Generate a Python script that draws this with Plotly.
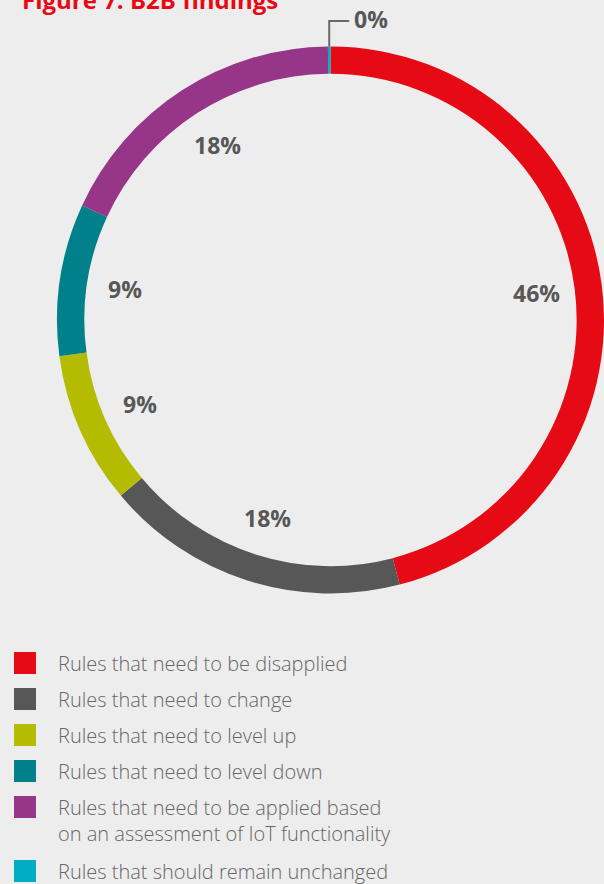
import math
import plotly.graph_objects as go

categories = [
    "Rules that need to be disapplied",
    "Rules that need to change",
    "Rules that need to level up",
    "Rules that need to level down",
    "Rules that need to be applied based<br>on an assessment of IoT functionality",
    "Rules that should remain unchanged",
]
values = [46, 18, 9, 9, 18, 0.15]
label_text = ["46%", "18%", "9%", "9%", "18%", "0%"]
colors = ["#E60A14", "#575757", "#B4BB00", "#00808A", "#973589", "#00ABC4"]

W, H = 604, 884
BG = "#EDEDED"
# pie geometry (pixels)
dom_x = [57 / W, 1.0]
dom_y = [1 - 595 / H, 1 - 45 / H]
cx = (dom_x[0] + dom_x[1]) / 2 * W
cy = (1 - (dom_y[0] + dom_y[1]) / 2) * H
R = min((dom_x[1] - dom_x[0]) * W, (dom_y[1] - dom_y[0]) * H) / 2


def px(x):
    return x / W


def py(y):
    return 1 - y / H


fig = go.Figure(
    go.Pie(
        labels=categories,
        values=values,
        marker=dict(colors=colors, line=dict(width=0)),
        hole=0.9,
        sort=False,
        direction="clockwise",
        rotation=0,
        textinfo="none",
        hoverinfo="label+percent",
        domain=dict(x=dom_x, y=dom_y),
        showlegend=False,
    )
)

annotations = []
shapes = []
total = sum(values)
cum = 0.0
label_r = 208
for v, t in zip(values, label_text):
    start = cum / total * 360
    cum += v
    end = cum / total * 360
    mid = math.radians((start + end) / 2)
    if v >= 1:
        x = cx + label_r * math.sin(mid)
        y = cy - label_r * math.cos(mid)
        annotations.append(dict(
            x=px(x), y=py(y), xref="paper", yref="paper", text="<b>%s</b>" % t,
            showarrow=False, font=dict(family="Open Sans", size=23, color="#575757"),
            xanchor="center", yanchor="middle"))
    else:
        # leader line from ring top
        x0 = cx + R * math.sin(mid)
        y0 = cy - R * math.cos(mid)
        shapes.append(dict(type="path", xref="paper", yref="paper",
                           path="M %f %f L %f %f L %f %f" % (px(x0), py(y0), px(x0), py(21), px(x0 + 20), py(21)),
                           line=dict(color="#6A6A6A", width=2)))
        annotations.append(dict(
            x=px(x0 + 23), y=py(19), xref="paper", yref="paper", text="<b>%s</b>" % t,
            showarrow=False, font=dict(family="Open Sans", size=23, color="#575757"),
            xanchor="left", yanchor="middle"))

# title (partly cut off at the top as in the reference)
annotations.append(dict(
    x=px(20), y=py(-1), xref="paper", yref="paper", text="<b>Figure 7: B2B findings</b>",
    showarrow=False, font=dict(family="Open Sans", size=24, color="#E60A14"),
    xanchor="left", yanchor="middle"))

# manual legend
row_y = 652
for cat, col in zip(categories, colors):
    shapes.append(dict(type="rect", xref="paper", yref="paper",
                       x0=px(14), x1=px(36), y0=py(row_y), y1=py(row_y + 22),
                       fillcolor=col, line=dict(width=0)))
    annotations.append(dict(
        x=px(56), y=py(row_y - 4), xref="paper", yref="paper", text=cat,
        showarrow=False, align="left",
        font=dict(family="Open Sans", size=20, color="#666666", weight=300),
        xanchor="left", yanchor="top"))
    nlines = cat.count("<br>") + 1
    row_y += 36 + (nlines - 1) * 28

fig.update_layout(
    width=W, height=H,
    margin=dict(l=0, r=0, t=0, b=0),
    paper_bgcolor=BG, plot_bgcolor=BG,
    annotations=annotations, shapes=shapes,
)

fig.write_html("out.html")
